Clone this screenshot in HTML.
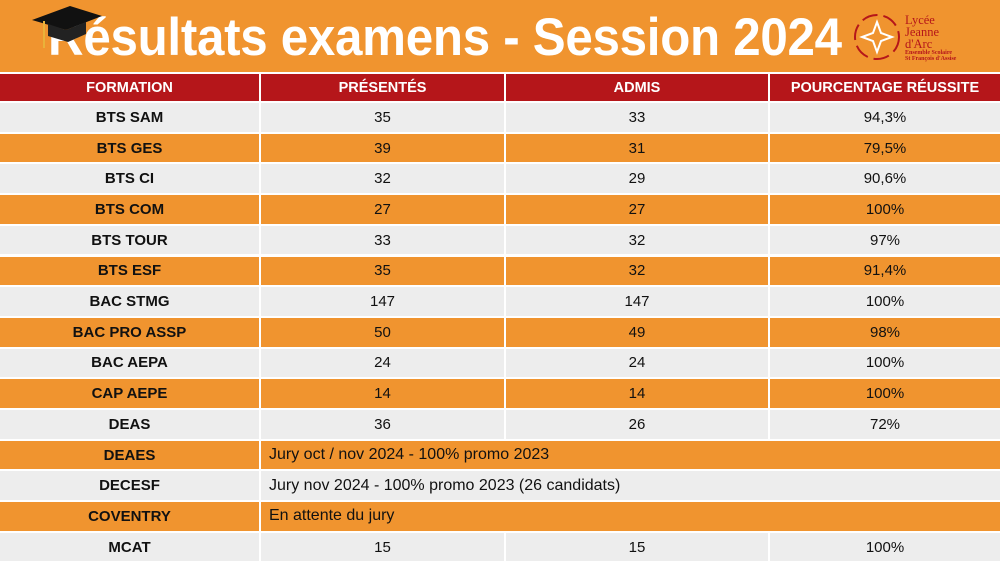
<!DOCTYPE html>
<html><head><meta charset="utf-8"><style>
*{margin:0;padding:0;box-sizing:border-box}
body{width:1000px;height:563px;overflow:hidden;background:#fff;font-family:"Liberation Sans",Arial,sans-serif;position:relative}
.hdr{position:absolute;left:0;top:0;width:1000px;height:72px;background:#F0942F}
.title{position:absolute;left:48px;top:8px;color:#fff;font-weight:bold;font-size:53px;line-height:60px;white-space:nowrap;transform-origin:left top;transform:scaleX(0.93);letter-spacing:-0.3px}
.c{position:absolute;display:flex;align-items:center;justify-content:center;font-size:15px;color:#111}
.h{background:#B5161A;color:#fff;font-weight:bold;font-size:14.5px}
.o{background:#F0942F}.g{background:#EDEDED}
.b{font-weight:bold}
.l{justify-content:flex-start;padding-left:8px;font-size:16px}
</style></head><body>
<div class="hdr"></div>
<div class="title">Résultats examens - Session 2024</div>
<svg style="position:absolute;left:30px;top:2px" width="75" height="50" viewBox="0 0 75 50">
<polygon points="2,18 40,4 72,14 36,28" fill="#111"/>
<polygon points="18,22 18,34 38,40 56,32 56,20 36,28" fill="#222"/>
<line x1="14" y1="19" x2="14" y2="46" stroke="#E9B23A" stroke-width="2"/>
</svg>
<svg style="position:absolute;left:852px;top:12px" width="50" height="50" viewBox="0 0 50 50">
<circle cx="25" cy="25" r="22" fill="none" stroke="#B5161A" stroke-width="2" stroke-dasharray="16 6"/>
<polygon points="25,10 29,21 40,25 29,29 25,40 21,29 10,25 21,21" fill="none" stroke="#fff" stroke-width="2"/>
</svg>
<div style="position:absolute;left:905px;top:14px;color:#B5161A;font-family:'Liberation Serif',serif;font-size:12.5px;line-height:12px">Lycée<br>Jeanne<br>d'Arc</div>
<div style="position:absolute;left:905px;top:50px;color:#B5161A;font-family:'Liberation Serif',serif;font-size:6px;line-height:6px;font-weight:bold">Ensemble Scolaire<br>St François d'Assise</div>
<div id="t"></div>
<script>
var cols=[[0,259],[261,504],[506,768],[770,1000]];
var html='';
var hd=['FORMATION','PRÉSENTÉS','ADMIS','POURCENTAGE RÉUSSITE'];
for(var i=0;i<4;i++)html+='<div class="c h" style="left:'+cols[i][0]+'px;top:74px;width:'+(cols[i][1]-cols[i][0])+'px;height:27px">'+hd[i]+'</div>';
var rows=[['BTS SAM','35','33','94,3%'],['BTS GES','39','31','79,5%'],['BTS CI','32','29','90,6%'],['BTS COM','27','27','100%'],['BTS TOUR','33','32','97%'],['BTS ESF','35','32','91,4%'],['BAC STMG','147','147','100%'],['BAC PRO ASSP','50','49','98%'],['BAC AEPA','24','24','100%'],['CAP AEPE','14','14','100%'],['DEAS','36','26','72%'],['DEAES','Jury oct / nov 2024 - 100% promo 2023'],['DECESF','Jury nov 2024 - 100% promo 2023 (26 candidats)'],['COVENTRY','En attente du jury'],['MCAT','15','15','100%']];
for(var r=0;r<rows.length;r++){
 var y=103+r*30.7, h=28.7, cl=r%2?'o':'g';
 var R=rows[r];
 if(R.length==4){for(var i=0;i<4;i++)html+='<div class="c '+cl+(i==0?' b':'')+'" style="left:'+cols[i][0]+'px;top:'+y+'px;width:'+(cols[i][1]-cols[i][0])+'px;height:'+h+'px">'+R[i]+'</div>';}
 else{html+='<div class="c '+cl+' b" style="left:0;top:'+y+'px;width:259px;height:'+h+'px">'+R[0]+'</div>';
 html+='<div class="c '+cl+' l" style="left:261px;top:'+y+'px;width:739px;height:'+h+'px">'+R[1]+'</div>';}
}
document.getElementById('t').innerHTML=html;
</script>
</body></html>
